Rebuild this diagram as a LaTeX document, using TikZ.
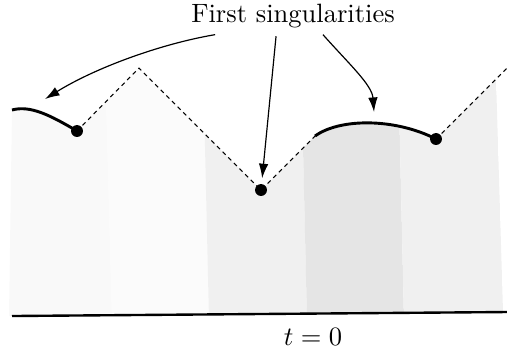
\documentclass[tikz,border=0pt]{standalone}
\usetikzlibrary{arrows.meta,positioning}
\definecolor{shadeA}{HTML}{F9F9F9}
\definecolor{shadeB}{HTML}{FBFBFB}
\definecolor{shadeC}{HTML}{F0F0F0}
\definecolor{shadeD}{HTML}{E5E5E5}
\definecolor{shadeE}{HTML}{EEEEEE}

\begin{document}
\begin{tikzpicture}[x=0.3774pt,y=-0.3774pt,>=Latex,
 front/.style={line width=1.1pt},
 cone/.style={line width=0.4pt,dash pattern=on 1.6pt off 1.4pt},
 ground/.style={line width=0.9pt},
 arr/.style={->,line width=0.45pt,>={Latex[length=5.5pt,width=3.6pt]}},
 sing/.style={circle,fill,inner sep=0pt,minimum size=4.5pt}]
\useasboundingbox (0,0) rectangle (507,352);
% shaded development region
\begin{scope}
\clip (9,316) -- (12,110) .. controls (30,105) and (50,115) .. (77,131)
 -- (139,68) -- (261,190) -- (315,136) .. controls (340,118) and (395,118) .. (436,139)
 -- (496,79) -- (503,312) -- cycle;
\foreach \xa/\xb/\xc/\xd/\col in {11/105/8/112/shadeA,105/203/112/209/shadeB,
 203/301/209/307/shadeC,301/398/307/404/shadeD,398/496/404/504/shadeC,8/11/5/8/shadeE}
 \fill[\col] (\xa,60) -- (\xb,60) -- (\xd,320) -- (\xc,320) -- cycle;
\end{scope}
\draw[ground] (12,316) -- (507,312);
% light cones and fronts
\node[sing] (d1) at (77,131) {};
\node[sing] (d2) at (261,190) {};
\node[sing] (d3) at (436,139) {};
\coordinate (peak) at (139,68);
\coordinate (cusp) at (315,136);
\coordinate (edge) at (507,68);
\draw[cone] (d1.center) -- (peak) -- (d2.center) -- (cusp);
\draw[cone] (d3.center) -- (edge);
\draw[front] (12,110) .. controls (30,105) and (50,115) .. (d1.center);
\draw[front] (cusp) .. controls (340,118) and (395,118) .. (d3.center);
% labels
\node (lbl) at (293,16) {First singularities};
\node (tzero) at (313,337) {$t=0$};
\coordinate (s1) at (45,99);
\coordinate (s3) at (374,112);
\draw[arr] ([xshift=-29.4pt,yshift=1pt]lbl.south) .. controls (160,44) and (95,68) .. (s1);
\draw[arr,shorten >=2pt] ([xshift=-6.4pt,yshift=0.4pt]lbl.south) -- (d2);
\draw[arr] ([xshift=11.3pt,yshift=1pt]lbl.south) .. controls (350,65) and (372,85) .. (s3);
\end{tikzpicture}
\end{document}
